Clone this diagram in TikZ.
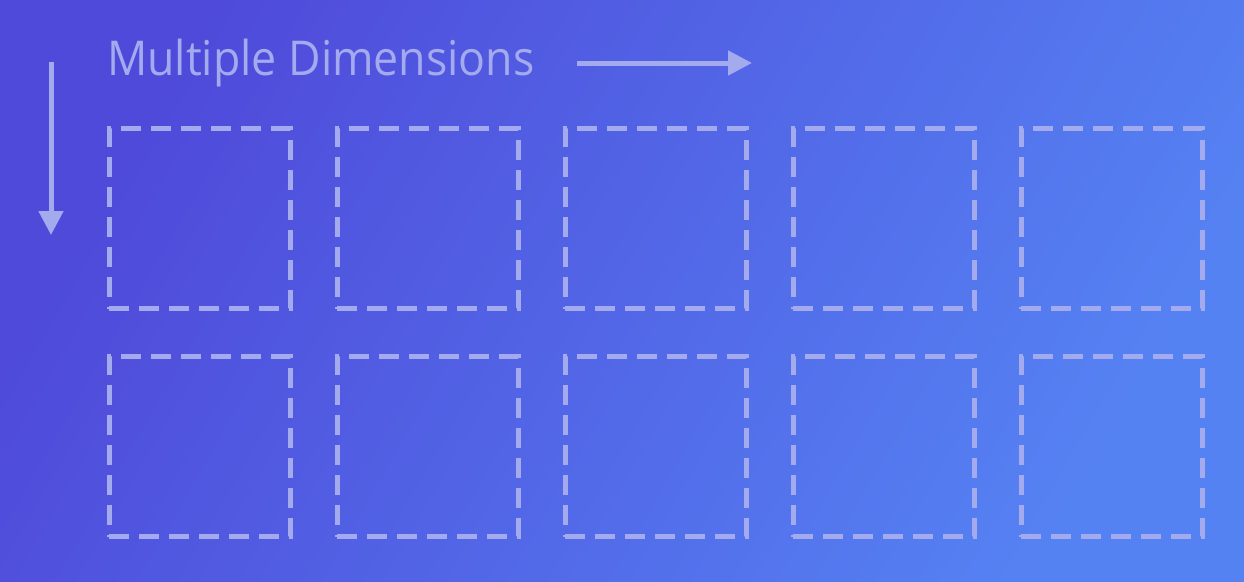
\documentclass[tikz,border=0pt]{standalone}
\usepackage{fontspec}
\setmainfont{Open Sans}
\usetikzlibrary{arrows.meta,positioning}
\definecolor{bgdark}{HTML}{4F4ADA}
\definecolor{bglight}{HTML}{5582F3}
\definecolor{linecol}{HTML}{A3AAEE}
\tikzset{%
	cell/.style      = {draw=linecol, line width=5pt, dash pattern=on 20pt off 10pt, rectangle, minimum width=181pt, minimum height=180pt, inner sep=0pt, outer sep=0pt},
	axisarrow/.style = {draw=linecol, line width=5pt, -{Triangle[width=24pt,length=24pt]}},
	heading/.style   = {text=linecol, font=\fontsize{48}{48}\selectfont, inner sep=0pt, anchor=base west},
}

\begin{document}
\begin{tikzpicture}[x=1pt,y=-1pt]
	\shade[top color=bgdark, bottom color=bglight, shading angle=60] (0,0) rectangle (1244,581);
	\useasboundingbox (0,0) rectangle (1244,581);
	
	\node[heading] (title) at (107,75) {\scalebox{0.93}[1]{Multiple Dimensions}};
	
	\coordinate (hstart) at (577,63);
	\coordinate (hend) at (752,63);
	\draw[axisarrow] (hstart) -- (hend);
	
	\coordinate (vstart) at (51,62);
	\coordinate (vend) at (51,235);
	\draw[axisarrow] (vstart) -- (vend);
	
	\foreach \c in {0,...,4} \foreach \r in {0,1} \node[cell] (cell-\r-\c) at (199.5+228*\c,218.5+228*\r) {};
\end{tikzpicture}
\end{document}
